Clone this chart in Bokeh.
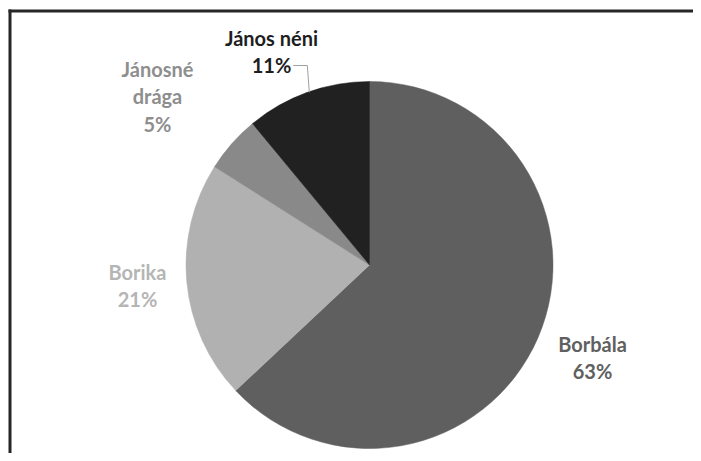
import math
from bokeh.plotting import figure
from bokeh.models import Range1d, ColumnDataSource
from bokeh.core.properties import value
from bokeh.embed import file_html
from bokeh.resources import INLINE

# ---- data ----
names = ["Borbála", "Borika", "Jánosné\ndrága", "János néni"]
percents = [63, 21, 5, 11]

# ---- styles / layout ----
fill_colors = ["#5f5f5f", "#b1b1b1", "#898989", "#212121"]
label_colors = ["#606060", "#b5b5b5", "#8e8e8e", "#1e1e1e"]
# label block centres in pixels (x, y from top)
label_pos = [(592, 357), (137, 285), (157, 96), (271, 51)]

W, H = 693, 453

def py(y):
    # pixel y (top-down) -> data y (bottom-up)
    return H - y

cx, cy_pix, R = 369, 264.5, 183.5
cy = py(cy_pix)

p = figure(width=W, height=H, output_backend="svg", toolbar_location=None,
           x_range=Range1d(0, W), y_range=Range1d(0, H),
           x_axis_location=None, y_axis_location=None,
           min_border_left=0, min_border_top=0, min_border_right=0,
           min_border_bottom=0, border_fill_color="white",
           background_fill_color="white", outline_line_color=None)
p.grid.visible = False

# chart frame (left and top edges visible)
frame_col = "#262626"
p.quad(left=[8, 8], right=[11, W], top=[py(9), py(9)], bottom=[0, py(12)],
       fill_color=frame_col, line_color=None)

total = float(sum(percents))
starts, ends, mids = [], [], []
cum = 0.0
for v in percents:
    a0 = math.pi / 2 - 2 * math.pi * cum / total
    cum += v
    a1 = math.pi / 2 - 2 * math.pi * cum / total
    starts.append(a0)
    ends.append(a1)
    mids.append((a0 + a1) / 2)

src = ColumnDataSource(dict(start=starts, end=ends, color=fill_colors,
                            x=[cx] * len(percents), y=[cy] * len(percents)))
p.wedge(x="x", y="y", radius=R, start_angle="start", end_angle="end",
        direction="clock", fill_color="color", line_color="color",
        line_width=0.5, source=src)

labels = [f"{n}\n{v}%" for n, v in zip(names, percents)]
lsrc = ColumnDataSource(dict(x=[lp[0] for lp in label_pos],
                             y=[py(lp[1]) for lp in label_pos],
                             text=labels, color=label_colors))
p.text(x="x", y="y", text="text", text_color="color", source=lsrc,
       text_font=value("Lato"), text_font_style="bold",
       text_font_size="20px", text_align="center", text_baseline="middle",
       text_line_height=1.15)

# leader line for the last slice (János néni)
i = 3
ex = cx + R * math.cos(mids[i])
ey = cy + R * math.sin(mids[i])
ly = py(label_pos[i][1] + 14)
p.line(x=[ex - 14, ex, ex + 2], y=[ly, ly, ey], line_color="#a0a0a0",
       line_width=1)

open("out.html", "w").write(file_html(p, INLINE))
